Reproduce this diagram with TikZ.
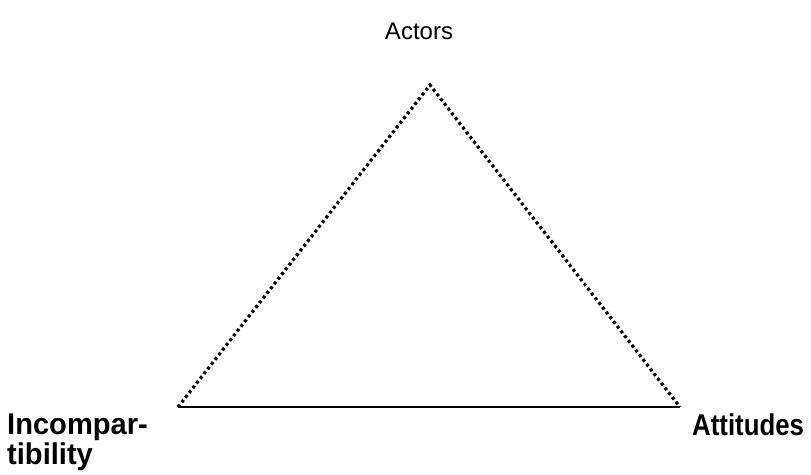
\documentclass[tikz,border=0pt]{standalone}
\usepackage{fontspec}
\setmainfont{Liberation Sans}
\begin{document}
\begin{tikzpicture}[x=1pt,y=1pt,
  side/.style={line width=3.2pt, dash pattern=on 3pt off 3pt},
  base/.style={line width=2.6pt},
  lab/.style={inner sep=0pt, font=\fontsize{30}{32}\selectfont\bfseries, align=left}]
\useasboundingbox (0,0) rectangle (811,474);
\coordinate (A) at (430,389);
\coordinate (L) at (178,67);
\coordinate (R) at (680,67);
\draw[side] (L) -- (A) -- (R);
\draw[base] (L) -- (R);
\node[inner sep=0pt, font=\fontsize{24}{26}\selectfont] (act) at (419,443) {Actors};
\node[lab, anchor=north west] (inc) at (7,60) {\scalebox{0.97}[1]{Incompar-}\\[-2pt]\scalebox{0.97}[1]{tibility}};
\node[lab, anchor=north west] (att) at (692,60) {\scalebox{0.86}[1]{Attitudes}};
\end{tikzpicture}
\end{document}
